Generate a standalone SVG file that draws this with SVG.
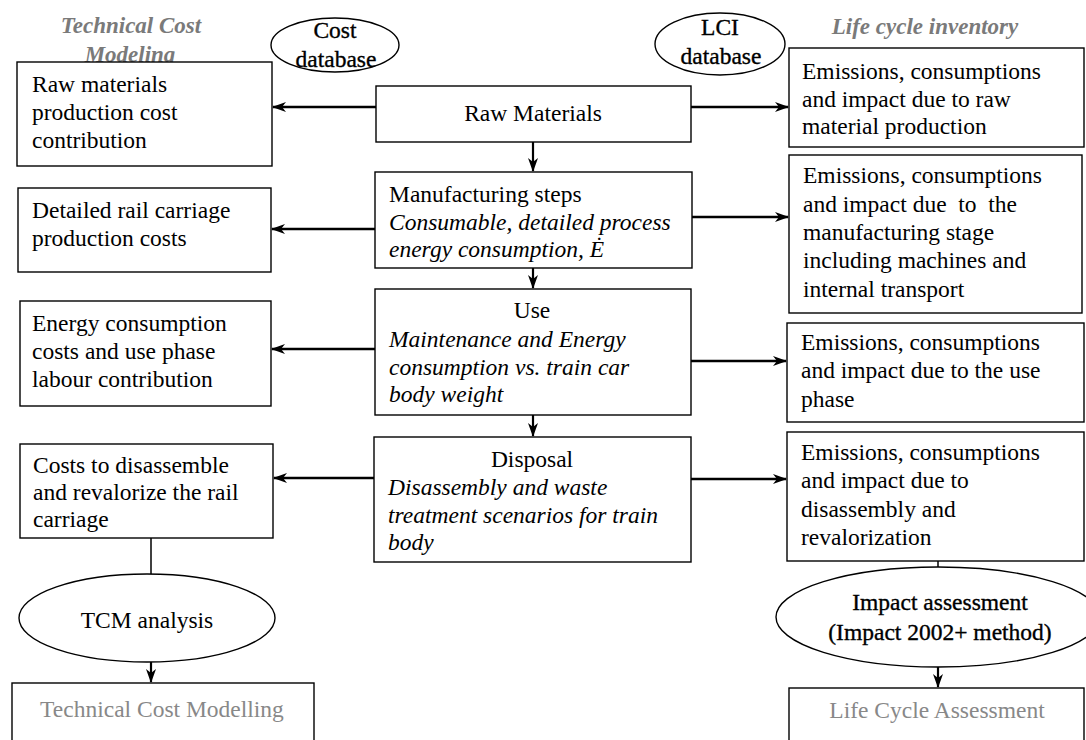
<svg xmlns="http://www.w3.org/2000/svg" width="1086" height="740" viewBox="0 0 1086 740">
<style>
  text { font-family: "Liberation Serif", "Times New Roman", serif; font-size: 23.5px; fill: #000; }
  .it { font-style: italic; }
  .hdr { font-weight: bold; font-style: italic; fill: #7a7a7a; font-size: 23px; }
  .mid { text-anchor: middle; }
  .grey { fill: #888; }
  .shadow { stroke: #000; stroke-width: 0.35; }
  .box { fill: #fff; stroke: #000; stroke-width: 1.4; }
  .ell { fill: #fff; stroke: #000; stroke-width: 1.4; }
  .arr { fill: none; stroke: #000; stroke-width: 2.6; marker-end: url(#ah); }
  .arrs { fill: none; stroke: #000; stroke-width: 2.2; marker-end: url(#ah); }
  .ln { fill: none; stroke: #000; stroke-width: 1.5; }
</style>
<defs>
  <marker id="ah" viewBox="0 0 14 10" refX="13" refY="5" markerWidth="14" markerHeight="10" markerUnits="userSpaceOnUse" orient="auto">
    <path d="M0,0 L14,5 L0,10 L4,5 Z" fill="#000"/>
  </marker>
</defs>
<rect width="1086" height="740" fill="#fff"/>

<g id="connectors">
  <line class="arr" x1="376" y1="107" x2="273" y2="107"/>
  <line class="arr" x1="691" y1="107" x2="788" y2="107"/>
  <line class="arr" x1="375" y1="229" x2="272" y2="229"/>
  <line class="arr" x1="692" y1="217" x2="788" y2="217"/>
  <line class="arr" x1="375" y1="349" x2="272" y2="349"/>
  <line class="arr" x1="691" y1="361" x2="786" y2="361"/>
  <line class="arr" x1="374" y1="478" x2="274" y2="478"/>
  <line class="arr" x1="691" y1="479" x2="786" y2="479"/>
  <line class="arrs" x1="533" y1="142" x2="533" y2="171"/>
  <line class="arrs" x1="533" y1="268" x2="533" y2="288"/>
  <line class="arrs" x1="533" y1="415" x2="533" y2="436"/>
  <line class="ln" x1="151" y1="538" x2="151" y2="575"/>
  <line class="arrs" x1="151" y1="662" x2="151" y2="682"/>
  <line class="ln" x1="938" y1="561" x2="938" y2="569"/>
  <line class="arrs" x1="938" y1="667" x2="938" y2="687"/>
</g>

<g id="header-tcm">
  <text class="hdr mid" x="131" y="33">Technical Cost</text>
  <text class="hdr mid" x="130" y="62">Modeling</text>
</g>
<g id="header-lci">
  <text class="hdr mid" x="925" y="34">Life cycle inventory</text>
</g>

<g id="cost-db">
  <ellipse class="ell" cx="335" cy="45" rx="64" ry="27"/>
  <text class="mid shadow" x="335" y="38">Cost</text>
  <text class="mid shadow" x="336" y="67">database</text>
</g>
<g id="lci-db">
  <ellipse class="ell" cx="720" cy="44" rx="65" ry="31"/>
  <text class="mid shadow" x="720" y="35">LCI</text>
  <text class="mid shadow" x="721" y="64">database</text>
</g>

<g id="left1">
  <rect class="box" x="17" y="62" width="255" height="104"/>
  <text x="32" y="92">Raw materials</text>
  <text x="32" y="120">production cost</text>
  <text x="32" y="148">contribution</text>
</g>
<g id="left2">
  <rect class="box" x="18" y="188" width="253" height="84"/>
  <text x="32" y="218">Detailed rail carriage</text>
  <text x="32" y="246">production costs</text>
</g>
<g id="left3">
  <rect class="box" x="20" y="301" width="251" height="105"/>
  <text x="32" y="331">Energy consumption</text>
  <text x="32" y="359">costs and use phase</text>
  <text x="32" y="387">labour contribution</text>
</g>
<g id="left4">
  <rect class="box" x="20" y="444" width="253" height="94"/>
  <text x="33" y="473">Costs to disassemble</text>
  <text x="33" y="500">and revalorize the rail</text>
  <text x="33" y="527">carriage</text>
</g>

<g id="raw-materials">
  <rect class="box" x="376" y="86" width="315" height="56"/>
  <text class="mid" x="533" y="121">Raw Materials</text>
</g>
<g id="manufacturing">
  <rect class="box" x="375" y="172" width="317" height="96"/>
  <text x="389" y="202">Manufacturing steps</text>
  <text class="it" x="389" y="230">Consumable, detailed process</text>
  <text class="it" x="389" y="257">energy consumption, Ė</text>
</g>
<g id="use">
  <rect class="box" x="375" y="289" width="316" height="126"/>
  <text class="mid" x="532" y="318">Use</text>
  <text class="it" x="389" y="347">Maintenance and Energy</text>
  <text class="it" x="389" y="375">consumption vs. train car</text>
  <text class="it" x="389" y="402">body weight</text>
</g>
<g id="disposal">
  <rect class="box" x="374" y="437" width="317" height="125"/>
  <text class="mid" x="532" y="467">Disposal</text>
  <text class="it" x="388" y="495">Disassembly and waste</text>
  <text class="it" x="388" y="523">treatment scenarios for train</text>
  <text class="it" x="388" y="550">body</text>
</g>

<g id="right1">
  <rect class="box" x="789" y="48" width="295" height="99"/>
  <text x="802" y="79">Emissions, consumptions</text>
  <text x="802" y="107">and impact due to raw</text>
  <text x="802" y="134">material production</text>
</g>
<g id="right2">
  <rect class="box" x="789" y="155" width="293" height="158"/>
  <text x="803" y="183">Emissions, consumptions</text>
  <text x="803" y="212" xml:space="preserve">and impact due  to  the</text>
  <text x="803" y="240">manufacturing stage</text>
  <text x="803" y="268">including machines and</text>
  <text x="803" y="297">internal transport</text>
</g>
<g id="right3">
  <rect class="box" x="787" y="323" width="297" height="99"/>
  <text x="801" y="350">Emissions, consumptions</text>
  <text x="801" y="378">and impact due to the use</text>
  <text x="801" y="407">phase</text>
</g>
<g id="right4">
  <rect class="box" x="787" y="432" width="297" height="129"/>
  <text x="801" y="460">Emissions, consumptions</text>
  <text x="801" y="488">and impact due to</text>
  <text x="801" y="517">disassembly and</text>
  <text x="801" y="545">revalorization</text>
</g>

<g id="tcm-analysis">
  <ellipse class="ell" cx="147" cy="618" rx="128" ry="44"/>
  <text class="mid" x="147" y="628">TCM analysis</text>
</g>
<g id="impact-assessment">
  <ellipse class="ell" cx="938" cy="617" rx="162" ry="50"/>
  <text class="mid shadow" x="940" y="610">Impact assessment</text>
  <text class="mid shadow" x="940" y="640">(Impact 2002+ method)</text>
</g>

<g id="tcm-box">
  <rect class="box" x="12" y="683" width="302" height="80"/>
  <text class="mid grey" x="162" y="717">Technical Cost Modelling</text>
</g>
<g id="lca-box">
  <rect class="box" x="789" y="688" width="295" height="80"/>
  <text class="mid grey" x="937" y="718">Life Cycle Assessment</text>
</g>
</svg>
